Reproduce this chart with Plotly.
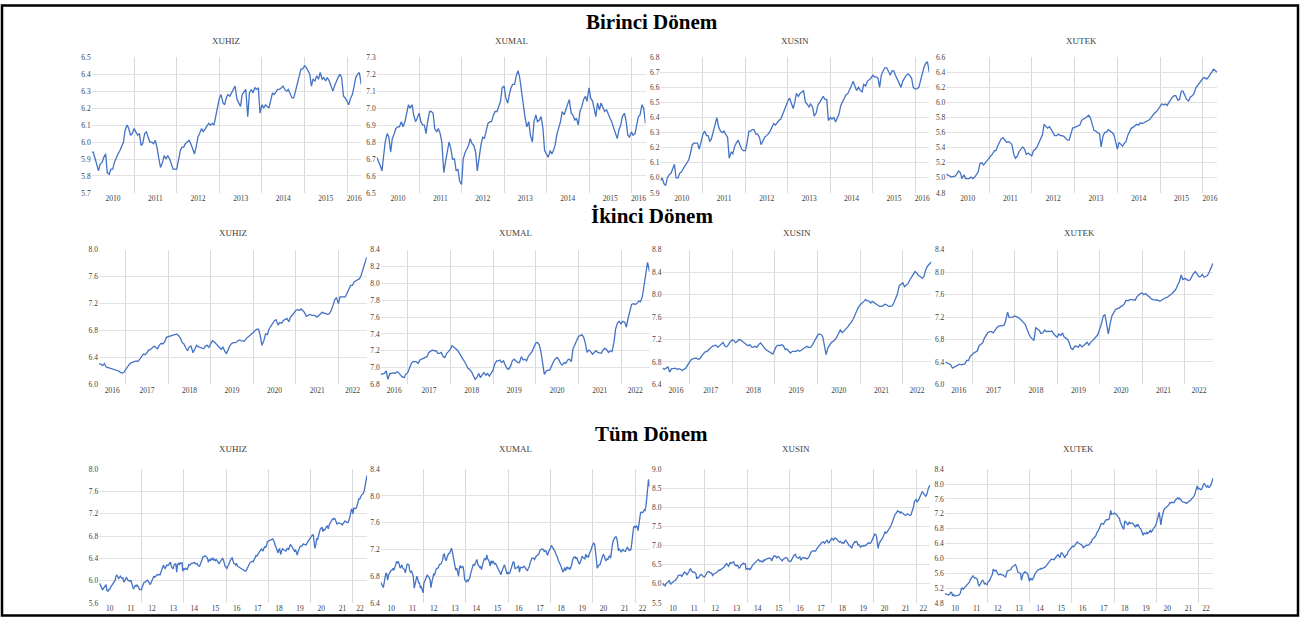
import pandas as pd
import plotly.graph_objects as go

# Semi-monthly observations (1st and 15th of every month), log index levels
DATES = pd.date_range("2010-01-01", "2022-09-01", freq="SMS")
SPLIT = 153  # 2016-05-15 opens the second period

XUHIZ_1 = [
    5.94, 5.94, 5.90, 5.86, 5.83, 5.87, 5.88, 5.91, 5.93, 5.82, 5.81, 5.84, 5.84, 5.88, 5.91, 5.93, 5.95, 5.98, 6.00, 6.07, 6.10, 6.08, 6.04, 6.05,
    6.08, 6.06, 6.04, 6.05, 5.98, 5.99, 6.05, 6.06, 6.03, 6.00, 6.00, 5.99, 6.01, 5.97, 5.90, 5.85, 5.88, 5.92, 5.90, 5.92, 5.90, 5.87, 5.84, 5.84,
    5.84, 5.89, 5.95, 5.97, 5.97, 5.99, 6.00, 6.01, 5.99, 5.96, 5.93, 5.97, 6.03, 6.05, 6.08, 6.06, 6.08, 6.10, 6.11, 6.10, 6.11, 6.10, 6.16, 6.20,
    6.26, 6.28, 6.23, 6.22, 6.26, 6.28, 6.27, 6.29, 6.31, 6.33, 6.25, 6.23, 6.21, 6.28, 6.30, 6.31, 6.15, 6.29, 6.31, 6.29, 6.32, 6.31, 6.32, 6.17,
    6.22, 6.20, 6.22, 6.21, 6.20, 6.24, 6.29, 6.28, 6.30, 6.31, 6.31, 6.32, 6.33, 6.31, 6.30, 6.31, 6.28, 6.26, 6.26, 6.30, 6.35, 6.40, 6.43, 6.43,
    6.45, 6.44, 6.42, 6.40, 6.33, 6.37, 6.36, 6.39, 6.37, 6.41, 6.37, 6.38, 6.36, 6.38, 6.36, 6.33, 6.30, 6.33, 6.36, 6.38, 6.40, 6.38, 6.27, 6.26,
    6.24, 6.22, 6.26, 6.28, 6.33, 6.38, 6.40, 6.41, 6.34,
]
XUHIZ_2 = [
    6.31, 6.30, 6.28, 6.31, 6.26, 6.25, 6.24, 6.23, 6.22, 6.21, 6.21, 6.20, 6.18, 6.17, 6.18,
    6.22, 6.27, 6.30, 6.32, 6.33, 6.34, 6.35, 6.34, 6.37, 6.41, 6.45, 6.44, 6.47, 6.51, 6.52, 6.54, 6.57, 6.55, 6.53, 6.58, 6.61, 6.60, 6.63, 6.70,
    6.71, 6.72, 6.73, 6.74, 6.74, 6.75, 6.72, 6.69, 6.62, 6.60, 6.54, 6.50, 6.56, 6.57, 6.47, 6.52, 6.58, 6.56, 6.55, 6.55, 6.53, 6.57, 6.58, 6.55,
    6.62, 6.65, 6.63, 6.60, 6.58, 6.54, 6.52, 6.56, 6.49, 6.46, 6.53, 6.58, 6.61, 6.62, 6.62, 6.64, 6.66, 6.65, 6.64, 6.64, 6.68, 6.70, 6.72, 6.75,
    6.77, 6.80, 6.82, 6.82, 6.72, 6.58, 6.65, 6.75, 6.74, 6.82, 6.87, 6.92, 6.95, 6.96, 6.88, 6.92, 6.91, 6.95, 6.97, 6.98, 6.93, 7.00, 7.03, 7.06,
    7.10, 7.11, 7.10, 7.12, 7.10, 7.07, 7.01, 7.03, 7.04, 7.03, 7.03, 7.02, 7.00, 7.02, 7.04, 7.07, 7.06, 7.05, 7.04, 7.05, 7.10, 7.17, 7.26, 7.29,
    7.20, 7.30, 7.30, 7.29, 7.30, 7.35, 7.42, 7.47, 7.47, 7.52, 7.54, 7.55, 7.57, 7.62, 7.72, 7.82, 7.89,
]

XUMAL_1 = [
    6.71, 6.69, 6.66, 6.63, 6.70, 6.80, 6.85, 6.83, 6.74, 6.82, 6.85, 6.88, 6.89, 6.89, 6.92, 6.89, 6.92, 6.97, 7.02, 7.00, 7.02, 6.96, 6.92, 6.94,
    6.97, 6.92, 6.90, 6.90, 6.85, 6.92, 6.98, 6.98, 6.97, 6.88, 6.86, 6.88, 6.85, 6.80, 6.62, 6.68, 6.74, 6.80, 6.76, 6.70, 6.70, 6.63, 6.64, 6.57,
    6.55, 6.70, 6.74, 6.76, 6.78, 6.82, 6.79, 6.78, 6.74, 6.63, 6.72, 6.78, 6.83, 6.82, 6.87, 6.91, 6.92, 6.92, 6.96, 6.98, 6.98, 7.01, 7.04, 7.12,
    7.13, 7.06, 7.03, 7.08, 7.12, 7.14, 7.14, 7.19, 7.22, 7.18, 7.08, 7.00, 6.94, 6.89, 6.92, 6.84, 6.80, 6.92, 6.96, 6.92, 6.93, 6.95, 6.88, 6.75,
    6.73, 6.71, 6.75, 6.73, 6.75, 6.78, 6.85, 6.89, 6.92, 6.98, 6.96, 6.99, 7.02, 7.05, 6.97, 6.96, 6.93, 6.94, 6.90, 6.98, 7.01, 7.05, 7.07, 7.04,
    7.12, 7.06, 7.04, 7.00, 6.95, 7.03, 6.99, 7.03, 7.00, 6.98, 6.99, 6.96, 6.94, 6.92, 6.88, 6.86, 6.82, 6.87, 6.90, 6.95, 6.97, 6.93, 6.84, 6.83,
    6.86, 6.84, 6.85, 6.90, 6.95, 6.96, 7.02, 7.00, 6.91,
]
XUMAL_2 = [
    6.92, 6.93, 6.93, 6.96, 6.86, 6.93, 6.93, 6.94, 6.93, 6.95, 6.94, 6.91, 6.89, 6.88, 6.92,
    6.94, 7.00, 7.05, 7.07, 7.07, 7.07, 7.05, 7.09, 7.10, 7.11, 7.12, 7.13, 7.18, 7.19, 7.21, 7.20, 7.20, 7.17, 7.17, 7.18, 7.13, 7.12, 7.17, 7.19,
    7.22, 7.26, 7.24, 7.23, 7.21, 7.18, 7.14, 7.12, 7.08, 7.04, 6.99, 6.98, 6.95, 6.91, 6.86, 6.88, 6.93, 6.88, 6.91, 6.94, 6.91, 6.93, 6.90, 6.93,
    6.97, 7.04, 7.08, 7.08, 7.09, 7.06, 7.08, 7.03, 6.99, 6.98, 7.02, 7.08, 7.10, 7.08, 7.06, 7.06, 7.13, 7.09, 7.10, 7.08, 7.14, 7.16, 7.19, 7.24,
    7.29, 7.30, 7.27, 7.19, 7.05, 6.92, 6.96, 6.97, 6.97, 7.02, 7.07, 7.10, 7.12, 7.10, 7.05, 7.03, 7.06, 7.05, 7.09, 7.10, 7.07, 7.22, 7.27, 7.33,
    7.37, 7.38, 7.39, 7.36, 7.29, 7.18, 7.21, 7.19, 7.16, 7.18, 7.20, 7.18, 7.17, 7.17, 7.21, 7.23, 7.21, 7.18, 7.20, 7.19, 7.30, 7.46, 7.53, 7.55,
    7.52, 7.55, 7.54, 7.48, 7.58, 7.65, 7.75, 7.76, 7.75, 7.76, 7.79, 7.78, 7.84, 7.96, 8.12, 8.25, 8.14,
]

XUSIN_1 = [
    5.98, 6.00, 5.96, 5.95, 6.00, 6.02, 6.03, 6.06, 6.09, 6.00, 6.00, 6.03, 6.04, 6.06, 6.08, 6.10, 6.12, 6.16, 6.22, 6.23, 6.23, 6.23, 6.19, 6.23,
    6.29, 6.31, 6.28, 6.28, 6.24, 6.26, 6.31, 6.37, 6.40, 6.34, 6.31, 6.30, 6.31, 6.29, 6.27, 6.13, 6.17, 6.16, 6.21, 6.23, 6.25, 6.22, 6.19, 6.18,
    6.18, 6.23, 6.31, 6.31, 6.32, 6.32, 6.29, 6.29, 6.27, 6.22, 6.25, 6.27, 6.28, 6.29, 6.31, 6.33, 6.36, 6.35, 6.37, 6.38, 6.39, 6.42, 6.44, 6.48,
    6.51, 6.53, 6.49, 6.46, 6.50, 6.56, 6.54, 6.56, 6.57, 6.58, 6.50, 6.49, 6.47, 6.49, 6.47, 6.41, 6.43, 6.48, 6.50, 6.52, 6.54, 6.52, 6.52, 6.38,
    6.40, 6.39, 6.40, 6.37, 6.39, 6.42, 6.48, 6.50, 6.53, 6.55, 6.56, 6.58, 6.61, 6.64, 6.61, 6.58, 6.60, 6.58, 6.57, 6.62, 6.61, 6.64, 6.65, 6.66,
    6.68, 6.67, 6.67, 6.66, 6.60, 6.68, 6.71, 6.73, 6.73, 6.71, 6.68, 6.71, 6.71, 6.68, 6.65, 6.63, 6.60, 6.64, 6.66, 6.68, 6.69, 6.68, 6.66, 6.60,
    6.59, 6.59, 6.60, 6.65, 6.70, 6.73, 6.76, 6.77, 6.70,
]
XUSIN_2 = [
    6.69, 6.67, 6.69, 6.71, 6.62, 6.68, 6.68, 6.69, 6.67, 6.68, 6.67, 6.65, 6.67, 6.69, 6.74,
    6.80, 6.84, 6.86, 6.86, 6.87, 6.85, 6.86, 6.91, 6.94, 6.98, 6.99, 7.02, 7.06, 7.08, 7.09, 7.10, 7.06, 7.09, 7.12, 7.15, 7.08, 7.07, 7.11, 7.16,
    7.19, 7.18, 7.14, 7.18, 7.20, 7.19, 7.16, 7.13, 7.10, 7.09, 7.11, 7.07, 7.06, 7.08, 7.06, 7.11, 7.14, 7.11, 7.06, 7.02, 7.00, 6.99, 6.97, 6.94,
    7.02, 7.08, 7.10, 7.09, 7.11, 7.09, 7.02, 7.03, 6.99, 6.96, 6.99, 6.99, 6.99, 7.01, 6.99, 7.01, 7.03, 7.06, 7.08, 7.06, 7.06, 7.09, 7.15, 7.22,
    7.27, 7.30, 7.29, 7.25, 7.06, 6.93, 7.06, 7.11, 7.15, 7.17, 7.20, 7.25, 7.32, 7.37, 7.32, 7.35, 7.38, 7.42, 7.47, 7.50, 7.56, 7.63, 7.69, 7.77,
    7.82, 7.84, 7.88, 7.91, 7.89, 7.89, 7.85, 7.88, 7.86, 7.84, 7.82, 7.79, 7.79, 7.80, 7.83, 7.82, 7.79, 7.79, 7.80, 7.85, 7.93, 8.01, 8.16, 8.18,
    8.21, 8.14, 8.17, 8.20, 8.26, 8.31, 8.37, 8.41, 8.38, 8.34, 8.32, 8.29, 8.33, 8.44, 8.51, 8.55, 8.58,
]

XUTEK_1 = [
    5.05, 5.04, 5.02, 5.01, 5.02, 5.02, 5.05, 5.09, 5.07, 4.99, 5.04, 4.99, 4.99, 4.99, 5.01, 4.99, 5.01, 5.04, 5.08, 5.19, 5.20, 5.17, 5.20, 5.23,
    5.26, 5.29, 5.32, 5.36, 5.36, 5.42, 5.47, 5.52, 5.53, 5.50, 5.47, 5.48, 5.47, 5.44, 5.31, 5.26, 5.29, 5.35, 5.39, 5.41, 5.38, 5.31, 5.33, 5.31,
    5.29, 5.36, 5.38, 5.41, 5.47, 5.52, 5.57, 5.71, 5.69, 5.66, 5.68, 5.64, 5.60, 5.56, 5.56, 5.58, 5.56, 5.56, 5.55, 5.53, 5.50, 5.50, 5.59, 5.66,
    5.67, 5.68, 5.69, 5.70, 5.76, 5.78, 5.79, 5.81, 5.83, 5.80, 5.70, 5.63, 5.62, 5.60, 5.59, 5.41, 5.56, 5.60, 5.61, 5.64, 5.62, 5.60, 5.58, 5.49,
    5.38, 5.47, 5.44, 5.42, 5.46, 5.48, 5.57, 5.61, 5.66, 5.67, 5.69, 5.71, 5.70, 5.73, 5.72, 5.73, 5.75, 5.75, 5.77, 5.80, 5.84, 5.86, 5.88, 5.91,
    5.96, 5.98, 5.97, 5.98, 5.96, 6.00, 6.03, 6.07, 6.09, 6.09, 6.03, 6.04, 6.15, 6.15, 6.09, 6.04, 6.02, 6.07, 6.09, 6.11, 6.19, 6.22, 6.25, 6.28,
    6.32, 6.33, 6.31, 6.33, 6.36, 6.40, 6.44, 6.42, 6.40,
]
XUTEK_2 = [
    6.40, 6.38, 6.37, 6.35, 6.29, 6.31, 6.32, 6.34, 6.36, 6.35, 6.36, 6.37, 6.43, 6.43, 6.50,
    6.54, 6.56, 6.58, 6.60, 6.69, 6.72, 6.74, 6.82, 6.88, 6.92, 6.94, 6.94, 6.92, 6.97, 7.01, 7.04, 7.04, 7.04, 7.05, 7.13, 7.29, 7.19, 7.19, 7.20,
    7.22, 7.21, 7.19, 7.17, 7.13, 7.11, 7.07, 6.98, 6.91, 6.85, 6.81, 6.78, 7.01, 6.98, 6.96, 6.91, 6.92, 6.97, 6.94, 6.95, 6.94, 6.95, 6.90, 6.87,
    6.84, 6.90, 6.87, 6.92, 6.85, 6.82, 6.80, 6.74, 6.64, 6.62, 6.68, 6.68, 6.66, 6.71, 6.67, 6.69, 6.72, 6.75, 6.70, 6.75, 6.78, 6.82, 6.85, 6.88,
    6.97, 7.07, 7.22, 7.24, 7.07, 6.90, 7.09, 7.22, 7.28, 7.33, 7.35, 7.36, 7.39, 7.40, 7.44, 7.50, 7.49, 7.51, 7.51, 7.51, 7.50, 7.56, 7.59, 7.62,
    7.63, 7.60, 7.62, 7.58, 7.57, 7.53, 7.51, 7.51, 7.50, 7.50, 7.48, 7.50, 7.53, 7.54, 7.55, 7.57, 7.59, 7.62, 7.66, 7.69, 7.77, 7.83, 7.95, 7.87,
    7.89, 7.87, 7.85, 7.86, 7.93, 7.97, 8.01, 7.97, 7.92, 7.92, 7.96, 7.91, 7.92, 7.94, 8.01, 8.07, 8.16,
]

SERIES = ["XUHIZ", "XUMAL", "XUSIN", "XUTEK"]
VALUES = {
    "XUHIZ": XUHIZ_1 + XUHIZ_2,
    "XUMAL": XUMAL_1 + XUMAL_2,
    "XUSIN": XUSIN_1 + XUSIN_2,
    "XUTEK": XUTEK_1 + XUTEK_2,
}
for name, first, second in [("XUHIZ", XUHIZ_1, XUHIZ_2), ("XUMAL", XUMAL_1, XUMAL_2),
                            ("XUSIN", XUSIN_1, XUSIN_2), ("XUTEK", XUTEK_1, XUTEK_2)]:
    if len(first) != SPLIT or len(first) + len(second) != len(DATES):
        raise ValueError(f"{name}: {len(first)} + {len(second)} values for {len(DATES)} dates")

PERIOD_TITLES = ["Birinci Dönem", "İkinci Dönem", "Tüm Dönem"]

# y tick values per period and index
Y_TICKS = [
    {"XUHIZ": [5.7, 5.8, 5.9, 6.0, 6.1, 6.2, 6.3, 6.4, 6.5],
     "XUMAL": [6.5, 6.6, 6.7, 6.8, 6.9, 7.0, 7.1, 7.2, 7.3],
     "XUSIN": [5.9, 6.0, 6.1, 6.2, 6.3, 6.4, 6.5, 6.6, 6.7, 6.8],
     "XUTEK": [4.8, 5.0, 5.2, 5.4, 5.6, 5.8, 6.0, 6.2, 6.4, 6.6]},
    {"XUHIZ": [6.0, 6.4, 6.8, 7.2, 7.6, 8.0],
     "XUMAL": [6.8, 7.0, 7.2, 7.4, 7.6, 7.8, 8.0, 8.2, 8.4],
     "XUSIN": [6.4, 6.8, 7.2, 7.6, 8.0, 8.4, 8.8],
     "XUTEK": [6.0, 6.4, 6.8, 7.2, 7.6, 8.0, 8.4]},
    {"XUHIZ": [5.6, 6.0, 6.4, 6.8, 7.2, 7.6, 8.0],
     "XUMAL": [6.4, 6.8, 7.2, 7.6, 8.0, 8.4],
     "XUSIN": [5.5, 6.0, 6.5, 7.0, 7.5, 8.0, 8.5, 9.0],
     "XUTEK": [4.8, 5.2, 5.6, 6.0, 6.4, 6.8, 7.2, 7.6, 8.0, 8.4]},
]

# year labels and the year boundaries that carry a vertical grid line
LABEL_YEARS = [list(range(2010, 2017)), list(range(2016, 2023)), list(range(2010, 2023))]
GRID_YEARS = [list(range(2011, 2017)), list(range(2017, 2023)), list(range(2012, 2023, 2))]

PERIOD_SLICES = [slice(0, SPLIT), slice(SPLIT, None), slice(0, None)]

# panel boxes in pixels (left, right) per row, (top, bottom) per row
W, H = 1304, 625
COL_BOXES = [
    [(91.7, 361.5), (377, 646), (661, 930), (947, 1218)],
    [(99, 367), (381, 650), (663, 932), (946, 1214)],
    [(99.3, 367.3), (381, 650), (663, 931), (945.5, 1214)],
]
ROW_BOXES = [(54, 191.7), (249.3, 386), (472, 607.7)]
PERIOD_TITLE_Y = [18.5, 215.5, 436]
PANEL_TITLE_Y = [37.3, 232, 452]

LINE_COLOR = "#4472C4"
HGRID_COLOR = "#e2e2e2"
VGRID_COLOR = "#dadada"
TEXT_COLOR = "#404040"
FONT = "Liberation Serif"

fig = go.Figure()
layout = dict(
    width=W, height=H,
    margin=dict(l=0, r=0, t=0, b=0),
    paper_bgcolor="white", plot_bgcolor="white",
    showlegend=False,
    font=dict(family=FONT, color=TEXT_COLOR, size=8),
)
annotations = []

for r in range(3):
    sl = PERIOD_SLICES[r]
    x = DATES[sl]
    start, end = x[0], x[-1]
    label_pos, label_txt = [], []
    for yr in LABEL_YEARS[r]:
        a = max(start, pd.Timestamp(f"{yr}-01-01"))
        b = min(end, pd.Timestamp(f"{yr + 1}-01-01"))
        label_pos.append(a + (b - a) / 2)
        label_txt.append(str(yr) if r < 2 else f"{yr % 100:02d}")
    grid_pos = [pd.Timestamp(f"{yr}-01-01") for yr in GRID_YEARS[r]]
    top, bottom = ROW_BOXES[r]

    for c, name in enumerate(SERIES):
        n = r * 4 + c + 1
        xa = "x" if n == 1 else f"x{n}"
        ya = "y" if n == 1 else f"y{n}"
        left, right = COL_BOXES[r][c]
        yt = Y_TICKS[r][name]

        fig.add_trace(go.Scatter(
            x=x, y=VALUES[name][sl], mode="lines",
            line=dict(color=LINE_COLOR, width=1.3),
            xaxis=xa, yaxis=ya, hoverinfo="x+y",
        ))

        layout["xaxis" if n == 1 else f"xaxis{n}"] = dict(
            type="date", domain=[left / W, right / W], anchor=ya,
            range=[start, end],
            tickmode="array", tickvals=label_pos, ticktext=label_txt,
            showgrid=False, zeroline=False, showline=False, ticks="",
            tickfont=dict(family=FONT, size=7.5, color=TEXT_COLOR),
            minor=dict(tickmode="array", tickvals=grid_pos, showgrid=True,
                       gridcolor=VGRID_COLOR, gridwidth=1, ticks=""),
        )
        layout["yaxis" if n == 1 else f"yaxis{n}"] = dict(
            domain=[1 - bottom / H, 1 - top / H], anchor=xa,
            range=[yt[0], yt[-1]],
            tickmode="array", tickvals=yt, ticktext=[f"{v:.1f}" for v in yt],
            showgrid=True, gridcolor=HGRID_COLOR, gridwidth=1,
            zeroline=False, showline=False, ticks="",
            tickfont=dict(family=FONT, size=7.5, color=TEXT_COLOR),
        )
        annotations.append(dict(
            text=name, xref="paper", yref="paper",
            x=(left + right) / 2 / W, y=1 - PANEL_TITLE_Y[r] / H,
            xanchor="center", yanchor="middle", showarrow=False,
            font=dict(family=FONT, size=9, color=TEXT_COLOR),
        ))

    annotations.append(dict(
        text=f"<b>{PERIOD_TITLES[r]}</b>", xref="paper", yref="paper",
        x=0.5, y=1 - PERIOD_TITLE_Y[r] / H,
        xanchor="center", yanchor="middle", showarrow=False,
        font=dict(family=FONT, size=21, color="black"),
    ))

layout["annotations"] = annotations
layout["shapes"] = [dict(
    type="rect", xref="paper", yref="paper",
    x0=2 / W, x1=1299 / W, y0=1 - 620.5 / H, y1=1 - 1.5 / H,
    line=dict(color="black", width=2.5), fillcolor="rgba(0,0,0,0)",
)]
fig.update_layout(**layout)
fig.write_html("out.html")
